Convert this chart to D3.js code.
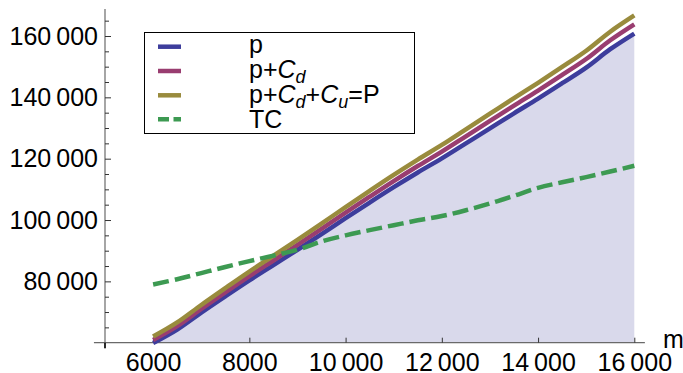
<!DOCTYPE html>
<html>
<head>
<meta charset="utf-8">
<script src="https://cdn.jsdelivr.net/npm/d3@7"></script>
<style>
  body { margin: 0; background: #fff; }
  svg { display: block; font-family: "Liberation Sans", Arial, sans-serif; }
</style>
</head>
<body>
<div id="chart"></div>
<script>
// m values along the x axis
const mValues = [6000, 6500, 7000, 7500, 8000, 8500, 9000, 9500, 10000, 10500, 11000,
  11500, 12000, 12500, 13000, 13500, 14000, 14500, 15000, 15500, 16000];

// p
const pValues = [59900, 64300, 69800, 75100, 80300, 85300, 90300, 95400, 100600, 105700, 110700,
  115500, 120100, 125000, 129900, 134800, 139600, 144600, 149700, 155700, 160800];

// p + Cd
const pCdValues = [60900, 65400, 71000, 76400, 81700, 86800, 91900, 97100, 102400, 107600, 112700,
  117600, 122300, 127300, 132300, 137300, 142200, 147300, 152500, 158600, 163800];

// p + Cd + Cu = P
const totalValues = [62000, 66600, 72300, 77800, 83200, 88350, 93540, 98830, 104220, 109510, 114700,
  119690, 124480, 129570, 134660, 139750, 144740, 149900, 155200, 161400, 166700];

// TC
const tcValues = [79000, 80700, 82700, 84700, 86600, 88400, 90300, 93000, 95000, 96700, 98300,
  99900, 101300, 103200, 105400, 107900, 110500, 112300, 114000, 115800, 117700];

const xTicks = [6000, 8000, 10000, 12000, 14000, 16000];
const xTickLabels = ['6000', '8000', '10\u2009000', '12\u2009000', '14\u2009000', '16\u2009000'];
const yTicks = [80000, 100000, 120000, 140000, 160000];
const yTickLabels = ['80\u2009000', '100\u2009000', '120\u2009000', '140\u2009000', '160\u2009000'];

const seriesNames = ['p', 'p+Cd', 'p+Cd+Cu=P', 'TC'];

const width = 683;
const height = 373;

const colors = {
  p: '#3d3d9c',
  pCd: '#993d70',
  total: '#998b3d',
  tc: '#3d9a52',
  fill: '#d9d9eb',
  axis: '#6a6a6a',
};

const svg = d3.select('#chart')
  .append('svg')
  .attr('width', width)
  .attr('height', height);

const x = d3.scaleLinear()
  .domain([5000, 16000])
  .range([105, 634.3]);

const y = d3.scaleLinear()
  .domain([60000, 160000])
  .range([342.7, 36]);

const rows = mValues.map((m, i) => ({
  m,
  p: pValues[i],
  pCd: pCdValues[i],
  total: totalValues[i],
  tc: tcValues[i],
}));

const curve = d3.curveCatmullRom.alpha(0.5);

// filled area under p
const area = d3.area()
  .curve(curve)
  .x((d) => x(d.m))
  .y0(y(60000))
  .y1((d) => y(d.p));

svg.append('path')
  .datum(rows)
  .attr('fill', colors.fill)
  .attr('d', area);

// axes
const xExtent = [4770, 16220];
const yExtent = [58200, 168800];

svg.append('line')
  .attr('x1', x(xExtent[0]))
  .attr('x2', x(xExtent[1]))
  .attr('y1', y(60000))
  .attr('y2', y(60000))
  .attr('stroke', colors.axis)
  .attr('stroke-width', 1.2);

svg.append('line')
  .attr('x1', x(5000))
  .attr('x2', x(5000))
  .attr('y1', y(yExtent[0]))
  .attr('y2', y(yExtent[1]))
  .attr('stroke', colors.axis)
  .attr('stroke-width', 1.2);

const xAxis = (g) => g
  .call(d3.axisBottom(x)
    .tickValues(xTicks)
    .tickFormat((d, i) => xTickLabels[i])
    .tickSizeInner(-5)
    .tickSizeOuter(0)
    .tickPadding(11));

svg.append('g')
  .attr('transform', `translate(0, ${y(60000)})`)
  .call(xAxis)
  .call((g) => g.select('.domain').remove());

const yAxis = (g) => g
  .call(d3.axisLeft(y)
    .tickValues(yTicks)
    .tickFormat((d, i) => yTickLabels[i])
    .tickSizeInner(-6)
    .tickSizeOuter(0)
    .tickPadding(7));

svg.append('g')
  .attr('transform', `translate(${x(5000)}, 0)`)
  .call(yAxis)
  .call((g) => g.select('.domain').remove());

const yMinor = d3.range(65000, 168000, 5000).filter((v) => v % 20000 !== 0);

svg.append('g')
  .attr('transform', `translate(${x(5000)}, 0)`)
  .call(d3.axisLeft(y).tickValues(yMinor).tickFormat('').tickSizeInner(-4).tickSizeOuter(0))
  .call((g) => g.select('.domain').remove());

svg.selectAll('.tick line')
  .attr('stroke', '#333')
  .attr('stroke-width', 1);

svg.selectAll('.tick text')
  .attr('font-family', '"Liberation Sans", Arial, sans-serif')
  .attr('font-size', 25)
  .attr('fill', '#000');

// small tick under origin
svg.append('line')
  .attr('x1', x(5000))
  .attr('x2', x(5000))
  .attr('y1', y(60000))
  .attr('y2', y(yExtent[0]))
  .attr('stroke', '#000')
  .attr('stroke-width', 1.5);

svg.append('text')
  .attr('x', x(xExtent[1]) + 18)
  .attr('y', y(60000) + 5.5)
  .attr('font-size', 25)
  .text('m');

// curves
const line = (key) => d3.line()
  .curve(curve)
  .x((d) => x(d.m))
  .y((d) => y(d[key]));

svg.append('path')
  .datum(rows)
  .attr('fill', 'none')
  .attr('stroke', colors.p)
  .attr('stroke-width', 4.5)
  .attr('d', line('p'));

svg.append('path')
  .datum(rows)
  .attr('fill', 'none')
  .attr('stroke', colors.pCd)
  .attr('stroke-width', 4.5)
  .attr('d', line('pCd'));

svg.append('path')
  .datum(rows)
  .attr('fill', 'none')
  .attr('stroke', colors.total)
  .attr('stroke-width', 4.5)
  .attr('d', line('total'));

svg.append('path')
  .datum(rows)
  .attr('fill', 'none')
  .attr('stroke', colors.tc)
  .attr('stroke-width', 4.5)
  .attr('stroke-dasharray', '16,6')
  .attr('d', line('tc'));

// legend
const legend = svg.append('g');

legend.append('rect')
  .attr('x', 144.5)
  .attr('y', 32.5)
  .attr('width', 270)
  .attr('height', 101)
  .attr('fill', '#fff')
  .attr('stroke', '#000')
  .attr('stroke-width', 1);

const legendItems = [
  { color: colors.p, dash: null, lineY: 46.7, textY: 53 },
  { color: colors.pCd, dash: null, lineY: 71, textY: 78 },
  { color: colors.total, dash: null, lineY: 95.3, textY: 102.5 },
  { color: colors.tc, dash: '11,4.5', lineY: 119.3, textY: 128.3 },
];

legendItems.forEach((item) => {
  legend.append('line')
    .attr('x1', 158)
    .attr('x2', 181)
    .attr('y1', item.lineY)
    .attr('y2', item.lineY)
    .attr('stroke', item.color)
    .attr('stroke-width', 4.5)
    .attr('stroke-dasharray', item.dash);
});

const labelX = 249;

const addLabel = (yPos, parts) => {
  const t = legend.append('text')
    .attr('x', labelX)
    .attr('y', yPos)
    .attr('font-size', 25);
  parts.forEach((part) => {
    const s = t.append('tspan').text(part.text);
    if (part.italic) s.attr('font-style', 'italic');
    if (part.sub) s.attr('font-size', 18).attr('dy', 5);
    if (part.up) s.attr('dy', -5);
  });
};

addLabel(legendItems[0].textY, [{ text: seriesNames[0] }]);
addLabel(legendItems[1].textY, [
  { text: 'p+' }, { text: 'C', italic: true }, { text: 'd', italic: true, sub: true },
]);
addLabel(legendItems[2].textY, [
  { text: 'p+' }, { text: 'C', italic: true }, { text: 'd', italic: true, sub: true },
  { text: '+', up: true }, { text: 'C', italic: true }, { text: 'u', italic: true, sub: true },
  { text: '=P', up: true },
]);
addLabel(legendItems[3].textY, [{ text: seriesNames[3] }]);
</script>
</body>
</html>
